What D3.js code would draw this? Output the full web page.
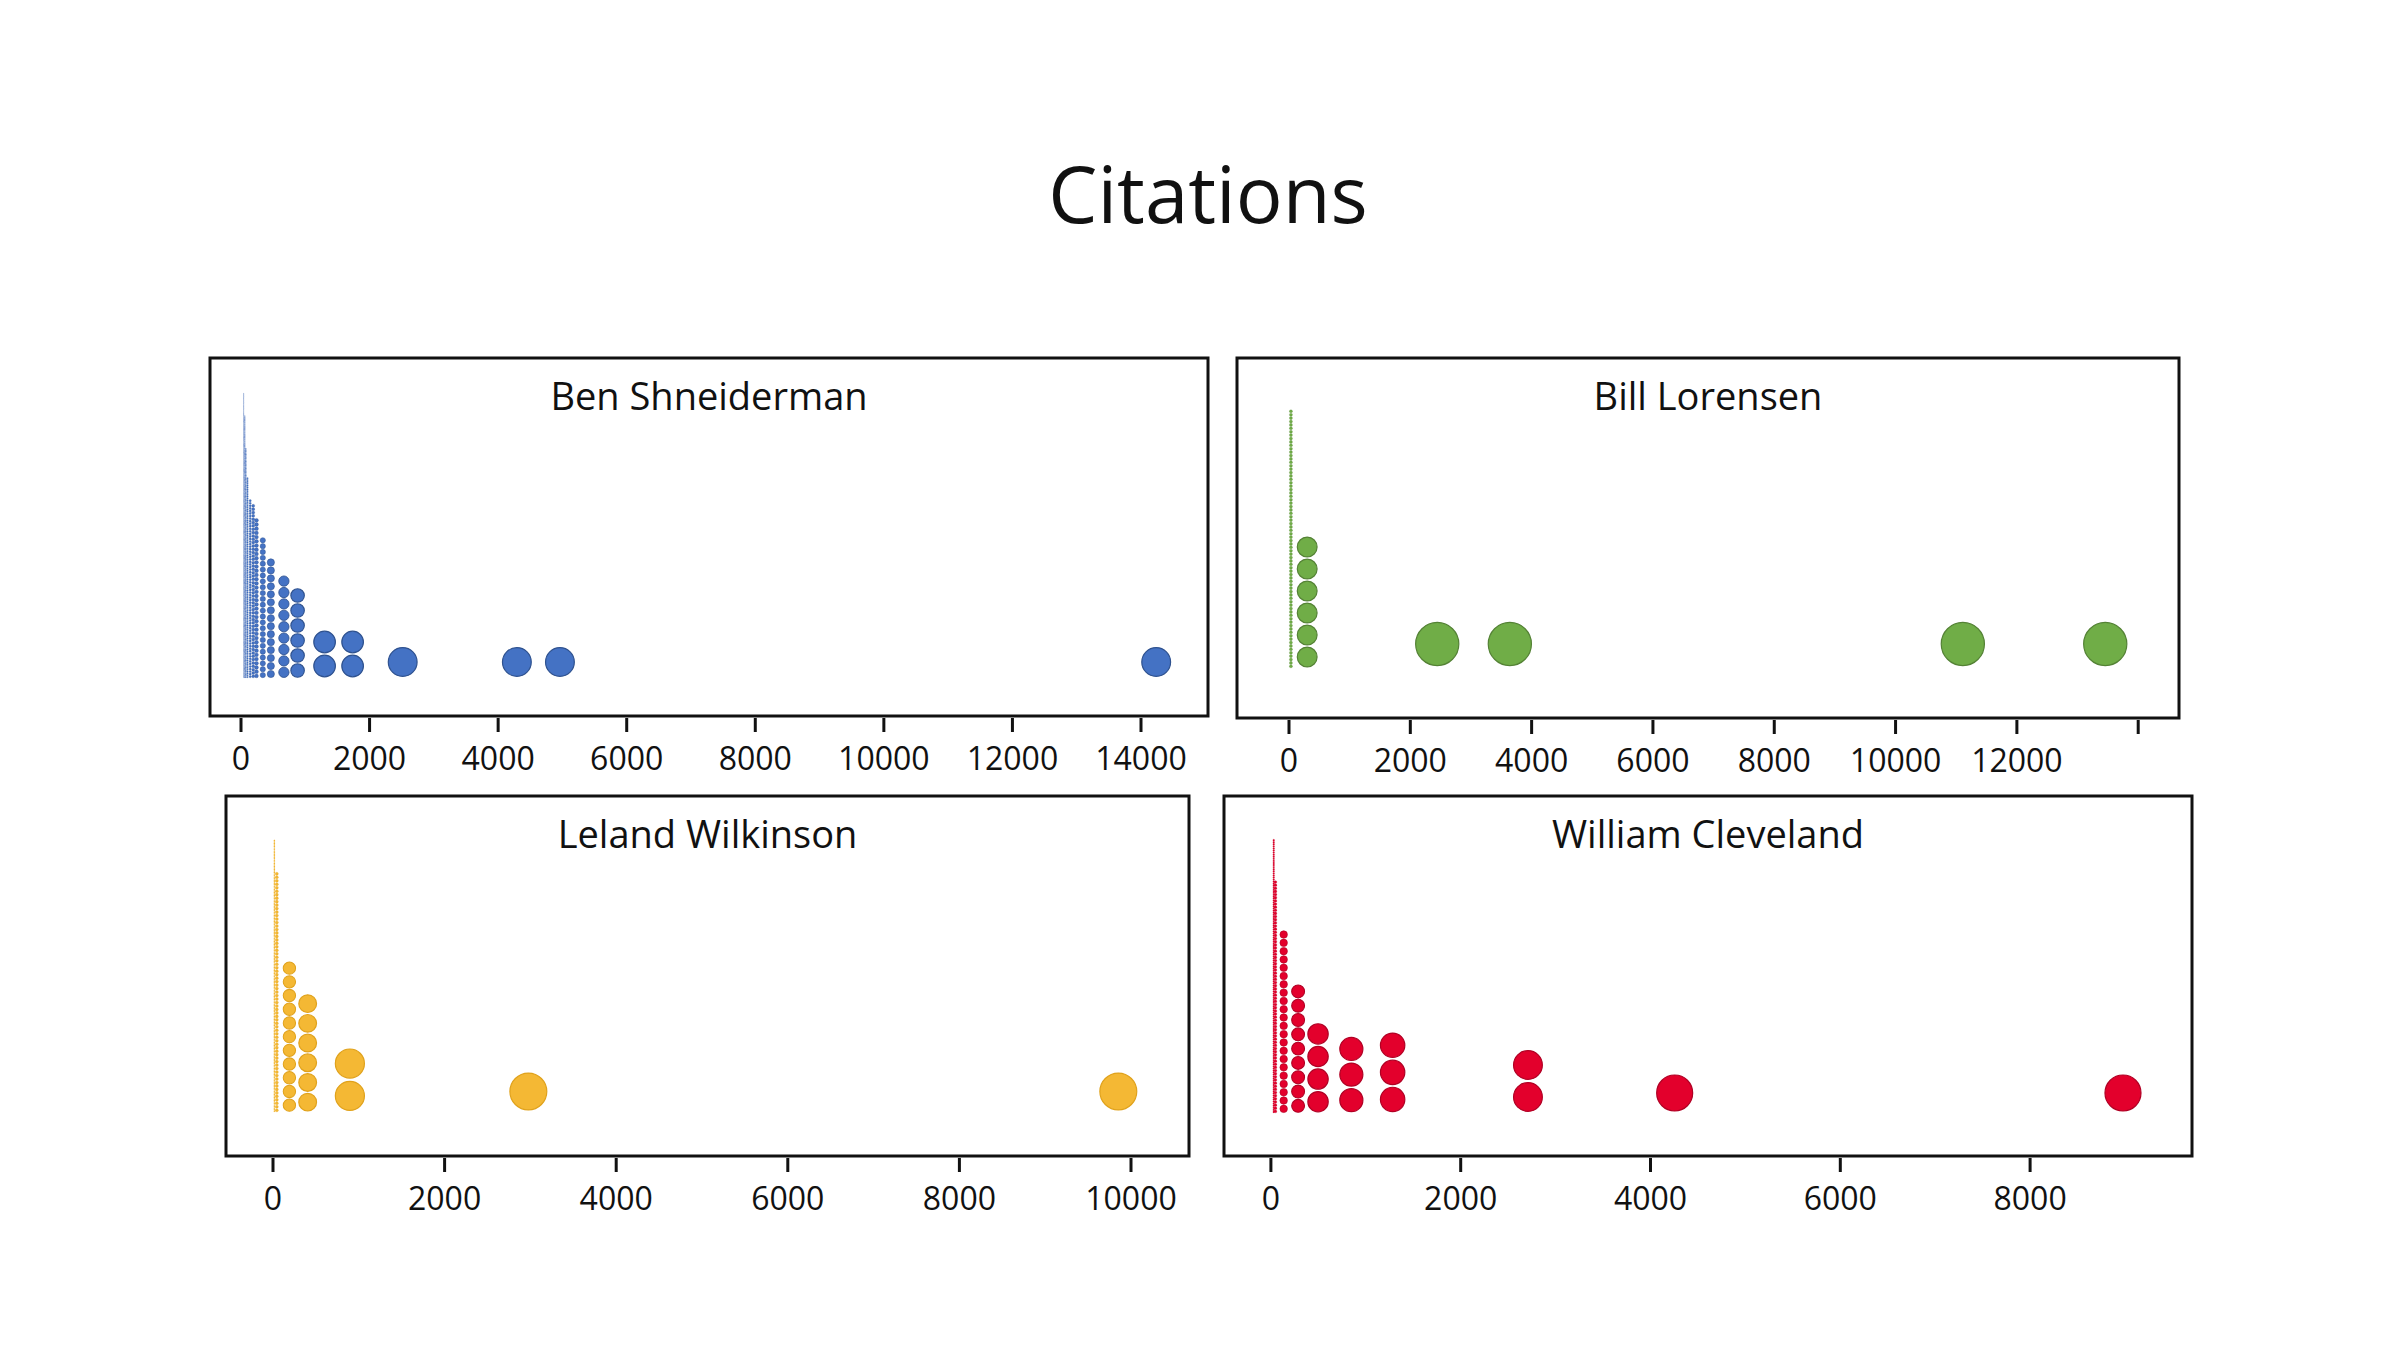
<!DOCTYPE html>
<html>
<head>
<meta charset="utf-8">
<script src="https://cdn.jsdelivr.net/npm/d3@7/dist/d3.min.js"></script>
<style>
  html, body { margin: 0; padding: 0; background: #ffffff; }
  svg { display: block; }
</style>
</head>
<body>
<svg id="chart" width="2400" height="1350"></svg>
<script>
// ---------------- DATA ----------------
const chartTitle = "Citations";
const authors = ["Ben Shneiderman", "Bill Lorensen", "Leland Wilkinson", "William Cleveland"];

// Each column: citation level (x) and number of papers stacked at that level
const benCitations = [51, 67, 83, 109, 151, 198, 249, 347, 472, 675, 888, 1308, 1744, 2523, 4299, 4969, 14244];
const benPapers    = [331, 232, 164, 109, 70, 52, 38, 24, 15, 9, 6, 2, 2, 1, 1, 1, 1];

const billCitations = [40, 308, 2452, 3649, 11117, 13465];
const billPapers    = [76, 6, 1, 1, 1, 1];

const lelandCitations = [22, 50, 197, 410, 902, 2982, 9858];
const lelandPapers    = [178, 69, 11, 6, 2, 1, 1];

const williamCitations = [35, 53, 140, 292, 502, 853, 1288, 2714, 4260, 8984];
const williamPapers    = [132, 74, 22, 9, 4, 3, 3, 2, 1, 1];

const benTicks = [0, 2000, 4000, 6000, 8000, 10000, 12000, 14000];
const benTickLabels = ["0", "2000", "4000", "6000", "8000", "10000", "12000", "14000"];
const billTicks = [0, 2000, 4000, 6000, 8000, 10000, 12000, 14000];
const billTickLabels = ["0", "2000", "4000", "6000", "8000", "10000", "12000", ""];
const lelandTicks = [0, 2000, 4000, 6000, 8000, 10000];
const lelandTickLabels = ["0", "2000", "4000", "6000", "8000", "10000"];
const williamTicks = [0, 2000, 4000, 6000, 8000];
const williamTickLabels = ["0", "2000", "4000", "6000", "8000"];

// ---------------- LAYOUT / STYLE ----------------
const FONT = "'Open Sans', 'Noto Sans', 'DejaVu Sans', sans-serif";
const panels = [
  { name: authors[0], cites: benCitations, papers: benPapers, ticks: benTicks, labels: benTickLabels,
    fill: "#4472c4", stroke: "#2f528f",
    box: { x0: 210, y0: 358, x1: 1208, y1: 716 }, axisRange: [240.5, 1140.5], base: 678,
    rDomain: [0, 900, 1300, 2000, 2500], rRange: [0, 7.6, 12, 12, 16] },
  { name: authors[1], cites: billCitations, papers: billPapers, ticks: billTicks, labels: billTickLabels,
    fill: "#70ad47", stroke: "#548235",
    box: { x0: 1237, y0: 358, x1: 2179, y1: 718 }, axisRange: [1288.5, 2137.7], base: 668,
    rDomain: [0, 40, 308, 2400], rRange: [0, 1.7, 11, 24] },
  { name: authors[2], cites: lelandCitations, papers: lelandPapers, ticks: lelandTicks, labels: lelandTickLabels,
    fill: "#f4b834", stroke: "#e0a21c",
    box: { x0: 226, y0: 796, x1: 1189, y1: 1156 }, axisRange: [272.5, 1130.5], base: 1112,
    rDomain: [0, 197, 410, 902, 2982], rRange: [0, 6.85, 9.85, 16.15, 20.5] },
  { name: authors[3], cites: williamCitations, papers: williamPapers, ticks: williamTicks, labels: williamTickLabels,
    fill: "#e3002c", stroke: "#b00024",
    box: { x0: 1224, y0: 796, x1: 2192, y1: 1156 }, axisRange: [1270.4, 2029.6], base: 1113,
    rDomain: [0, 140, 502, 850, 2714, 4200], rRange: [0, 4.15, 11.3, 12.8, 16, 20] }
];

const svg = d3.select("#chart");

svg.append("text")
  .attr("x", 1208).attr("y", 223)
  .attr("text-anchor", "middle")
  .attr("font-family", FONT)
  .attr("font-size", 78)
  .attr("fill", "#111")
  .text(chartTitle);

panels.forEach(p => {
  const g = svg.append("g");
  const x = d3.scaleLinear()
    .domain([0, d3.max(p.ticks)])
    .range(p.axisRange);
  const r = d3.scaleLinear().domain(p.rDomain).range(p.rRange).clamp(true);

  // dots
  const dots = [];
  p.cites.forEach((c, j) => {
    const rr = r(c);
    for (let k = 0; k < p.papers[j]; k++) {
      dots.push({ c: c, k: k, r: rr });
    }
  });
  g.append("g").selectAll("circle")
    .data(dots)
    .join("circle")
    .attr("cx", d => x(d.c))
    .attr("cy", d => p.base - d.r - 2 * d.r * d.k)
    .attr("r", d => d.r * 0.9)
    .attr("fill", p.fill)
    .attr("stroke", p.stroke)
    .attr("stroke-width", d => Math.min(1.2, d.r * 0.15));

  // frame
  g.append("rect")
    .attr("x", p.box.x0).attr("y", p.box.y0)
    .attr("width", p.box.x1 - p.box.x0)
    .attr("height", p.box.y1 - p.box.y0)
    .attr("fill", "none")
    .attr("stroke", "#111")
    .attr("stroke-width", 3);

  // panel title
  g.append("text")
    .attr("x", (p.box.x0 + p.box.x1) / 2)
    .attr("y", p.box.y0 + 52)
    .attr("text-anchor", "middle")
    .attr("font-family", FONT)
    .attr("font-size", 38)
    .attr("fill", "#111")
    .text(p.name);

  // axis
  const axis = d3.axisBottom(x)
    .tickValues(p.ticks)
    .tickSize(14)
    .tickPadding(15)
    .tickFormat((d, i) => p.labels[i]);
  const ag = g.append("g")
    .attr("transform", `translate(0,${p.box.y1 + 2})`)
    .call(axis);
  ag.select(".domain").remove();
  ag.selectAll(".tick line").attr("stroke", "#111").attr("stroke-width", 3);
  ag.selectAll(".tick text")
    .attr("font-family", FONT)
    .attr("font-size", 32)
    .attr("fill", "#111");
});
</script>
</body>
</html>
